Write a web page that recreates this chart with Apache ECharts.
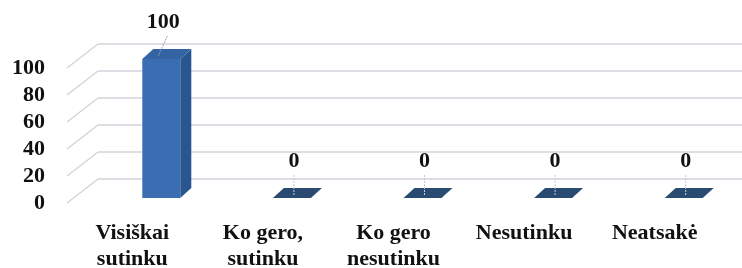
<!DOCTYPE html>
<html>
<head>
<meta charset="utf-8">
<script src="https://cdn.jsdelivr.net/npm/echarts@6/dist/echarts.min.js"></script>
<style>
  html, body { margin: 0; padding: 0; background: #fff; }
  #chart { width: 742px; height: 268px; }
</style>
</head>
<body>
<div id="chart"></div>
<script>
const categories = ['Visiškai\nsutinku', 'Ko gero,\nsutinku', 'Ko gero\nnesutinku', 'Nesutinku', 'Neatsakė'];
const values = [100, 0, 0, 0, 0];
const yTicks = [0, 20, 40, 60, 80, 100];

const FONT = '"Liberation Serif", "Times New Roman", serif';
const GRID_COLOR = '#d3d5dd';
// perspective shift of the back wall and of the bars
const WALL_DX = 31, WALL_DY = -24;
const BAR_DX = 11, BAR_DY = -10;

const chart = echarts.init(document.getElementById('chart'));

// diagonal lines on the left side wall, from front ticks to back wall
const renderSideWall = (params, api) => {
  const v = api.value(0);
  const y = api.coord([0, v])[1];
  const x = params.coordSys.x;
  return {
    type: 'line',
    shape: { x1: x, y1: y, x2: x + WALL_DX, y2: y + WALL_DY },
    style: { stroke: GRID_COLOR, lineWidth: 1.5 }
  };
};

// 3D looking box bar
const renderBar = (params, api) => {
  const i = api.value(0);
  const v = api.value(1);
  const base = api.coord([i, 0]);
  const top = api.coord([i, v]);
  const x0 = base[0] + 10;
  const w = 38;
  const yb = base[1] - 5;
  const yt = yb - (base[1] - top[1]) * 1.03;
  const children = [];
  if (v > 0) {
    children.push({
      type: 'rect',
      shape: { x: x0, y: yt, width: w, height: yb - yt },
      style: { fill: '#3b6db2' }
    });
    children.push({
      type: 'polygon',
      shape: { points: [[x0 + w, yt], [x0 + w + BAR_DX, yt + BAR_DY], [x0 + w + BAR_DX, yb + BAR_DY], [x0 + w, yb]] },
      style: { fill: '#2a5690' }
    });
  }
  children.push({
    type: 'polygon',
    shape: { points: [[x0, yt], [x0 + BAR_DX, yt + BAR_DY], [x0 + w + BAR_DX, yt + BAR_DY], [x0 + w, yt]] },
    style: { fill: v > 0 ? '#3363a3' : '#294b72' }
  });
  const lx = x0 + 21;
  const ly = yt - 37;
  children.push({
    type: 'line',
    shape: { x1: lx + (v > 0 ? 4 : 0), y1: ly + 14, x2: lx - (v > 0 ? 5 : 0), y2: yt - 3 },
    style: { stroke: v > 0 ? '#9aa0a8' : '#c8ccd2', lineWidth: 1, lineDash: [2, 1] }
  });
  children.push({
    type: 'text',
    x: lx,
    y: ly,
    style: {
      text: String(v),
      fill: '#111',
      font: 'bold 22px ' + FONT,
      align: 'center',
      verticalAlign: 'middle'
    }
  });
  return { type: 'group', children: children };
};

chart.setOption({
  animation: false,
  grid: [
    { left: 67, right: 22, top: 68, bottom: 65, outerBoundsMode: 'none' },
    { left: 67 + WALL_DX, right: 0, top: 68 + WALL_DY, bottom: 65 - WALL_DY, outerBoundsMode: 'none' }
  ],
  xAxis: [
    {
      type: 'category',
      gridIndex: 0,
      data: categories,
      axisLine: { show: false },
      axisTick: { show: false },
      axisLabel: {
        margin: 17,
        verticalAlign: 'top',
        lineHeight: 26,
        color: '#111',
        fontFamily: FONT,
        fontWeight: 'bold',
        fontSize: 22
      }
    },
    {
      type: 'value',
      gridIndex: 1,
      show: false
    }
  ],
  yAxis: [
    {
      type: 'value',
      gridIndex: 0,
      min: 0,
      max: 100,
      interval: 20,
      axisLine: { show: false },
      axisTick: { show: false },
      splitLine: { show: false },
      axisLabel: {
        margin: 22,
        color: '#111',
        fontFamily: FONT,
        fontWeight: 'bold',
        fontSize: 22
      }
    },
    {
      type: 'value',
      gridIndex: 1,
      min: 0,
      max: 100,
      interval: 20,
      axisLine: { show: false },
      axisTick: { show: false },
      axisLabel: { show: false },
      splitLine: { show: true, lineStyle: { color: GRID_COLOR, width: 1.5 } }
    }
  ],
  series: [
    {
      type: 'custom',
      xAxisIndex: 0,
      yAxisIndex: 0,
      renderItem: renderSideWall,
      encode: { y: 0 },
      data: yTicks.map(v => [v]),
      silent: true,
      z: 1
    },
    {
      type: 'custom',
      xAxisIndex: 0,
      yAxisIndex: 0,
      renderItem: renderBar,
      encode: { x: 0, y: 1 },
      data: values.map((v, i) => [i, v]),
      z: 5
    }
  ]
});
</script>
</body>
</html>
